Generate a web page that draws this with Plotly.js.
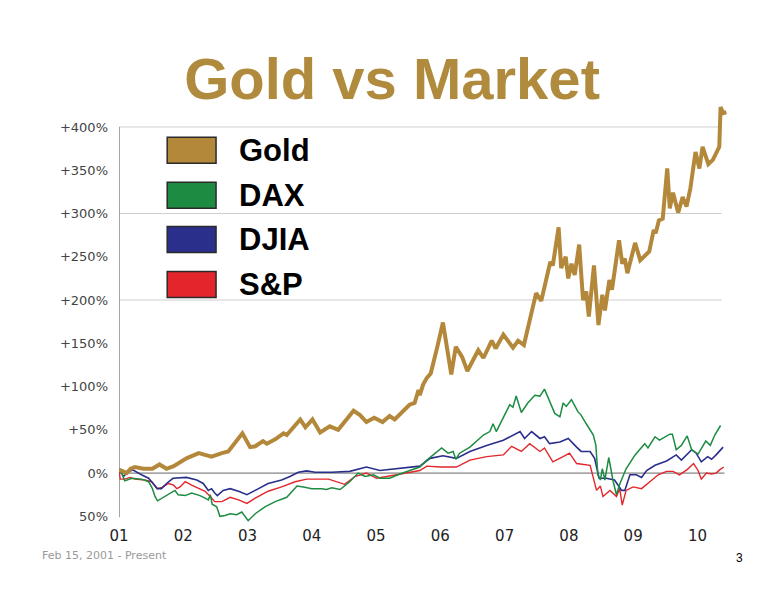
<!DOCTYPE html>
<html>
<head>
<meta charset="utf-8">
<script src="https://cdn.plot.ly/plotly-3.0.1.min.js"></script>
<style>
  html, body { margin: 0; padding: 0; background: #fff; }
  #container { width: 781px; height: 598px; }
</style>
</head>
<body>
<div id="container"></div>
<script>
// values: x = decimal year, y = % change since Feb 15 2001
var goldX = [2001.00, 2001.07, 2001.12, 2001.18, 2001.25, 2001.38, 2001.52, 2001.63, 2001.74, 2001.85,
  2002.05, 2002.24, 2002.44, 2002.60, 2002.70, 2002.92, 2003.04, 2003.12, 2003.24, 2003.30,
  2003.43, 2003.56, 2003.61, 2003.82, 2003.90, 2004.01, 2004.13, 2004.28, 2004.41, 2004.65,
  2004.75, 2004.85, 2004.97, 2005.10, 2005.21, 2005.29, 2005.52, 2005.60, 2005.66, 2005.68,
  2005.73, 2005.79, 2005.85, 2005.95, 2006.04, 2006.17, 2006.24, 2006.34, 2006.42, 2006.59,
  2006.67, 2006.80, 2006.86, 2006.98, 2007.13, 2007.21, 2007.30, 2007.49, 2007.57, 2007.71,
  2007.75, 2007.84, 2007.88, 2007.95, 2007.99, 2008.04, 2008.09, 2008.16, 2008.22, 2008.27,
  2008.31, 2008.39, 2008.46, 2008.52, 2008.56, 2008.63, 2008.67, 2008.78, 2008.83, 2008.87,
  2008.91, 2009.03, 2009.11, 2009.25, 2009.32, 2009.35, 2009.40, 2009.46, 2009.53, 2009.57,
  2009.62, 2009.70, 2009.77, 2009.83, 2009.89, 2009.97, 2010.03, 2010.08, 2010.17, 2010.24,
  2010.34, 2010.36, 2010.40, 2010.45];
var goldY = [4, 1, 0, 5, 7, 5, 5, 10, 5, 8,
  17, 23, 19, 23, 25, 46, 30, 31, 37, 34,
  39, 46, 44, 62, 53, 62, 47, 54, 50, 72,
  67, 59, 64, 59, 66, 62, 79, 81, 96, 90,
  102, 110, 115, 145, 174, 114, 146, 134, 118, 142,
  133, 153, 144, 160, 145, 153, 148, 208, 199, 244,
  240, 284, 237, 250, 225, 242, 229, 264, 200, 210,
  181, 240, 171, 206, 188, 223, 212, 269, 242, 248,
  231, 266, 246, 256, 281, 277, 292, 294, 352, 306,
  324, 301, 319, 308, 329, 371, 352, 377, 357, 362,
  377, 423, 416, 417];

var daxX = [2001.00, 2001.04, 2001.09, 2001.14, 2001.20, 2001.35, 2001.46, 2001.52, 2001.56, 2001.60,
  2001.69, 2001.79, 2001.87, 2001.92, 2002.03, 2002.13, 2002.26, 2002.34, 2002.39, 2002.42,
  2002.45, 2002.52, 2002.57, 2002.65, 2002.73, 2002.83, 2002.91, 2003.01, 2003.12, 2003.27,
  2003.43, 2003.61, 2003.69, 2003.77, 2003.87, 2004.00, 2004.15, 2004.23, 2004.31, 2004.44,
  2004.59, 2004.72, 2004.83, 2004.96, 2005.06, 2005.21, 2005.37, 2005.53, 2005.68, 2005.79,
  2005.89, 2006.02, 2006.12, 2006.20, 2006.24, 2006.30, 2006.46, 2006.67, 2006.77, 2006.82,
  2006.87, 2006.98, 2007.08, 2007.13, 2007.18, 2007.26, 2007.36, 2007.47, 2007.55, 2007.62,
  2007.70, 2007.78, 2007.86, 2007.91, 2007.96, 2008.04, 2008.14, 2008.19, 2008.27, 2008.38,
  2008.42, 2008.45, 2008.49, 2008.52, 2008.56, 2008.62, 2008.69, 2008.74, 2008.79, 2008.89,
  2009.03, 2009.18, 2009.23, 2009.34, 2009.41, 2009.57, 2009.61, 2009.67, 2009.75, 2009.84,
  2009.91, 2010.01, 2010.13, 2010.20, 2010.27, 2010.36];
var daxY = [5, 0, -9, -8, -6, -7, -10, -18, -27, -32,
  -28, -23, -20, -25, -26, -23, -26, -29, -31, -25,
  -36, -39, -50, -49, -47, -48, -45, -55, -47, -39,
  -33, -28, -22, -15, -16, -18, -18, -19, -17, -19,
  -10, 0, -4, -2, -6, -6, -1, 3, 7, 15,
  21, 29, 23, 25, 16, 23, 30, 44, 48, 57,
  48, 65, 79, 76, 89, 70, 81, 90, 89, 97,
  84, 69, 65, 81, 77, 85, 71, 67, 57, 44,
  32, -2, -8, 5, -8, 18, -10, -25, -13, 5,
  21, 34, 29, 42, 38, 45, 45, 27, 32, 43,
  27, 22, 37, 32, 44, 55];

var djiaX = [2001.00, 2001.07, 2001.14, 2001.22, 2001.35, 2001.46, 2001.53, 2001.60, 2001.66, 2001.74,
  2001.84, 2002.05, 2002.21, 2002.31, 2002.39, 2002.44, 2002.49, 2002.53, 2002.62, 2002.73,
  2002.86, 2002.99, 2003.12, 2003.32, 2003.53, 2003.66, 2003.79, 2003.92, 2004.05, 2004.31,
  2004.59, 2004.85, 2005.06, 2005.32, 2005.68, 2005.84, 2006.04, 2006.25, 2006.46, 2006.72,
  2006.98, 2007.24, 2007.31, 2007.42, 2007.55, 2007.62, 2007.70, 2007.86, 2007.99, 2008.12,
  2008.19, 2008.33, 2008.40, 2008.47, 2008.58, 2008.71, 2008.82, 2008.87, 2008.95, 2009.05,
  2009.13, 2009.21, 2009.34, 2009.52, 2009.67, 2009.75, 2009.91, 2009.98, 2010.06, 2010.16,
  2010.22, 2010.29, 2010.40];
var djiaY = [5, -4, 1.5, 3.5, -2, -6, -12, -18, -18, -12,
  -6, -5, -8, -12, -20, -18, -23, -26, -20, -18,
  -21, -25, -20, -12, -8, -4, 1, 2.5, 1, 1,
  2, 7, 3, 5, 8, 17, 20, 17, 25, 32,
  38, 48, 40, 48, 40, 42, 34, 36, 40, 30,
  25, 25, 17, -6, -6, -8, -20, -20, -2, -2,
  -5, 3, 9, 14, 21, 15, 27, 23, 13, 19,
  16, 21, 30];

var spX = [2001.00, 2001.02, 2001.09, 2001.17, 2001.25, 2001.40, 2001.51, 2001.59, 2001.66, 2001.77,
  2001.85, 2001.90, 2001.95, 2002.03, 2002.13, 2002.26, 2002.34, 2002.42, 2002.49, 2002.60,
  2002.73, 2002.86, 2002.99, 2003.12, 2003.32, 2003.53, 2003.74, 2003.92, 2004.26, 2004.51,
  2004.67, 2004.85, 2005.01, 2005.32, 2005.68, 2005.79, 2006.00, 2006.25, 2006.46, 2006.72,
  2006.98, 2007.11, 2007.26, 2007.39, 2007.55, 2007.62, 2007.75, 2007.91, 2008.01, 2008.12,
  2008.33, 2008.43, 2008.49, 2008.53, 2008.64, 2008.74, 2008.79, 2008.83, 2008.89, 2009.00,
  2009.13, 2009.26, 2009.39, 2009.52, 2009.62, 2009.72, 2009.84, 2009.94, 2010.01, 2010.06,
  2010.14, 2010.22, 2010.29, 2010.35, 2010.41];
var spY = [3, -7, -7, -5, -7, -8, -10, -18, -17, -12,
  -14, -18, -16, -10, -14, -18, -21, -27, -33, -33,
  -28, -31, -35, -29, -21, -16, -10, -7, -7, -13,
  -4, 0, -6, -2, 3, 8, 7, 7, 15, 19,
  21, 31, 25, 34, 25, 29, 13, 19, 23, 11,
  9, -20, -15, -27, -20, -27, -18, -37, -20, -16,
  -18, -10, -2, 2, 2, -2, 4, 11, 3, -7,
  0, -1, 0, 4, 7];

var seriesNames = ['Gold', 'DAX', 'DJIA', 'S&P'];
var seriesColors = ['#b4883b', '#1d8c42', '#2b2f8c', '#e2262b'];
var yTickVals = [-50, 0, 50, 100, 150, 200, 250, 300, 350, 400];
var yTickText = ['50%', '0%', '+50%', '+100%', '+150%', '+200%', '+250%', '+300%', '+350%', '+400%'];
var xTickVals = [2001, 2002, 2003, 2004, 2005, 2006, 2007, 2008, 2009, 2010];
var xTickText = ['01', '02', '03', '04', '05', '06', '07', '08', '09', '10'];
var gridVals = [200, 300, 400];

var data = [
  {x: spX, y: spY, name: 'S&P', mode: 'lines', type: 'scatter',
    line: {color: seriesColors[3], width: 1.4}},
  {x: djiaX, y: djiaY, name: 'DJIA', mode: 'lines', type: 'scatter',
    line: {color: seriesColors[2], width: 1.6}},
  {x: daxX, y: daxY, name: 'DAX', mode: 'lines', type: 'scatter',
    line: {color: seriesColors[1], width: 1.5}},
  {x: goldX, y: goldY, name: 'Gold', mode: 'lines', type: 'scatter',
    line: {color: seriesColors[0], width: 4}}
];

var shapes = [];
// light grid lines, only every 100%
gridVals.forEach(function(v) {
  shapes.push({type: 'line', xref: 'x', yref: 'y', x0: 2001, x1: 2010.38, y0: v, y1: v,
    line: {color: '#cfcfcf', width: 1}, layer: 'below'});
});
// zero line and left axis
shapes.push({type: 'line', xref: 'x', yref: 'y', x0: 2001, x1: 2010.42, y0: 0, y1: 0,
  line: {color: '#666', width: 1}, layer: 'below'});
shapes.push({type: 'line', xref: 'x', yref: 'y', x0: 2001, x1: 2001, y0: -51, y1: 400,
  line: {color: '#888', width: 1.5}, layer: 'below'});

// hand-made legend with filled boxes
var annotations = [];
var legendY = [373, 321, 270, 218];
seriesNames.forEach(function(n, i) {
  shapes.push({type: 'rect', xref: 'x', yref: 'y',
    x0: 2001.75, x1: 2002.51, y0: legendY[i] - 15, y1: legendY[i] + 15,
    fillcolor: seriesColors[i], line: {color: '#2a2a2a', width: 1.5}});
  annotations.push({xref: 'x', yref: 'y', x: 2002.83, y: legendY[i], text: n,
    showarrow: false, xanchor: 'left', yanchor: 'middle',
    font: {family: 'Liberation Sans, Arial, sans-serif', size: 31, color: '#000', weight: 700}});
});

annotations.push({xref: 'paper', yref: 'paper', x: -0.128, y: -0.073, text: 'Feb 15, 2001 - Present',
  showarrow: false, xanchor: 'left', yanchor: 'middle',
  font: {family: 'DejaVu Sans, sans-serif', size: 11, color: '#999'}});
annotations.push({xref: 'paper', yref: 'paper', x: 1.005, y: -0.078, text: '3',
  showarrow: false, xanchor: 'center', yanchor: 'middle',
  font: {family: 'Liberation Sans, Arial, sans-serif', size: 12, color: '#000'}});

var layout = {
  width: 781,
  height: 598,
  margin: {l: 119, r: 45, t: 101, b: 73},
  paper_bgcolor: '#fff',
  plot_bgcolor: '#fff',
  showlegend: false,
  title: {
    text: 'Gold vs Market',
    x: 0.502, xref: 'container', xanchor: 'center',
    y: 0.869, yref: 'container', yanchor: 'middle',
    font: {family: 'Liberation Sans, Arial, sans-serif', size: 58, color: '#b08b3e', weight: 700}
  },
  xaxis: {
    range: [2001, 2010.6],
    tickvals: xTickVals, ticktext: xTickText,
    showgrid: false, zeroline: false, showline: false, ticks: '',
    tickfont: {family: 'DejaVu Sans, sans-serif', size: 15, color: '#222'}
  },
  yaxis: {
    range: [-60, 430],
    tickvals: yTickVals, ticktext: yTickText,
    showgrid: false, zeroline: false, showline: false, ticks: '',
    ticklabelstandoff: 10,
    tickfont: {family: 'DejaVu Sans, sans-serif', size: 13, color: '#444'}
  },
  shapes: shapes,
  annotations: annotations
};

Plotly.newPlot('container', data, layout, {staticPlot: true, displayModeBar: false});
</script>
</body>
</html>
